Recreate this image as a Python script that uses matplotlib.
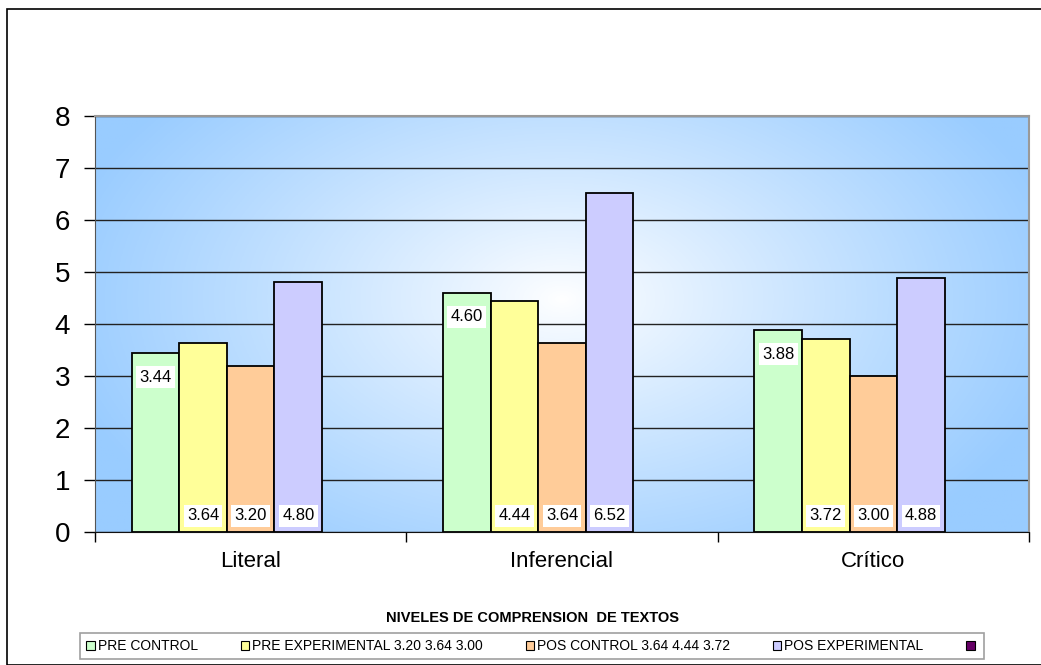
"""Niveles de comprension de textos: barras agrupadas pre/pos."""

import matplotlib
matplotlib.use("Agg")

import matplotlib.pyplot as plt
import numpy as np
from matplotlib.patches import Patch, Rectangle

categorias = ["Literal", "Inferencial", "Crítico"]
series = [
    "PRE CONTROL",
    "PRE EXPERIMENTAL 3.20 3.64 3.00",
    "POS CONTROL 3.64 4.44 3.72",
    "POS EXPERIMENTAL",
    "",
]
pre_control = [3.44, 4.60, 3.88]
pre_experimental = [3.64, 4.44, 3.72]
pos_control = [3.20, 3.64, 3.00]
pos_experimental = [4.80, 6.52, 4.88]
valores = [pre_control, pre_experimental, pos_control, pos_experimental]

colores = ["#CCFFCC", "#FFFF99", "#FFCC99", "#CCCCFF", "#660066"]
NARROW = ["Liberation Sans Narrow", "Liberation Sans"]

plt.rcParams["font.family"] = ["Liberation Sans", "DejaVu Sans"]

fig = plt.figure(figsize=(10.41, 6.65), dpi=100)
W, H = 1041, 665

# marco exterior del grafico
fig.patches.append(Rectangle((7 / W, 0), 1.2, (H - 9) / H, transform=fig.transFigure,
                             fill=False, edgecolor="#000000", linewidth=1.2))

ax = fig.add_axes([95 / W, (H - 532) / H, (1029 - 95) / W, (532 - 116) / H])

# fondo degradado (centro claro, bordes azules)
gx, gy = np.meshgrid(np.linspace(0, 1, 400), np.linspace(0, 1, 300))
d = np.sqrt(((gx - 0.5) / 0.55) ** 2 + ((gy - 0.56) / 0.75) ** 2)
t = np.clip(d, 0, 1) ** 0.9
azul = np.array([153, 204, 255]) / 255
blanco = np.array([1.0, 1.0, 1.0])
img = blanco[None, None, :] * (1 - t[..., None]) + azul[None, None, :] * t[..., None]
ax.imshow(img, extent=[0, 1, 0, 1], transform=ax.transAxes, origin="lower",
          aspect="auto", zorder=0)

n_series = 5
ancho = 0.153
x = np.arange(len(categorias))
for i, vals in enumerate(valores):
    pos = x + (i - (n_series - 1) / 2) * ancho
    barras = ax.bar(pos, vals, width=ancho, color=colores[i], edgecolor="black",
                    linewidth=1.3, zorder=2)
    for b, v in zip(barras, vals):
        cx = b.get_x() + b.get_width() / 2
        if i == 0:
            ax.annotate(f"{v:.2f}", (cx, v), xytext=(0, -24), textcoords="offset pixels",
                        ha="center", va="center", fontsize=12, zorder=3,
                        bbox=dict(boxstyle="square,pad=0.2", fc="white", ec="none"))
        else:
            ax.annotate(f"{v:.2f}", (cx, 0), xytext=(0, 16), textcoords="offset pixels",
                        ha="center", va="center", fontsize=12, zorder=3,
                        bbox=dict(boxstyle="square,pad=0.2", fc="white", ec="none"))

ax.set_xlim(-0.5, len(categorias) - 0.5)
ax.set_ylim(0, 8)
ax.set_yticks(range(0, 9))
ax.tick_params(axis="y", labelsize=20, length=8, width=1, direction="out", pad=10)
ax.set_xticks(x)
ax.set_xticklabels(categorias, fontsize=16)
ax.tick_params(axis="x", which="major", length=0, pad=14)
ax.set_xticks(np.arange(-0.5, len(categorias)), minor=True)
ax.tick_params(axis="x", which="minor", length=7, width=1, direction="out")

ax.set_axisbelow(True)
ax.grid(axis="y", color="#222222", linewidth=1)
for lado in ("top", "right"):
    ax.spines[lado].set_color("#999999")
    ax.spines[lado].set_linewidth(1.5)
ax.spines["left"].set_color("#555555")
ax.spines["bottom"].set_color("#111111")

fig.text(533 / W, (H - 618) / H, "NIVELES DE COMPRENSION  DE TEXTOS", ha="center",
         va="center", fontsize=10.5, fontweight="bold", family=NARROW)

handles = [Patch(facecolor=c, edgecolor="black", linewidth=0.8) for c in colores]
leg = fig.legend(handles, series, loc="center", ncol=5,
                 bbox_to_anchor=(532 / W, (H - 646) / H), frameon=True, fancybox=False,
                 handlelength=0.6, handleheight=0.6, handletextpad=0.2, columnspacing=3.1,
                 borderpad=0.45, prop={"family": NARROW, "size": 10})
leg.get_frame().set_edgecolor("#888888")
leg.get_frame().set_linewidth(1.2)

fig.savefig("out.png", dpi=100)
